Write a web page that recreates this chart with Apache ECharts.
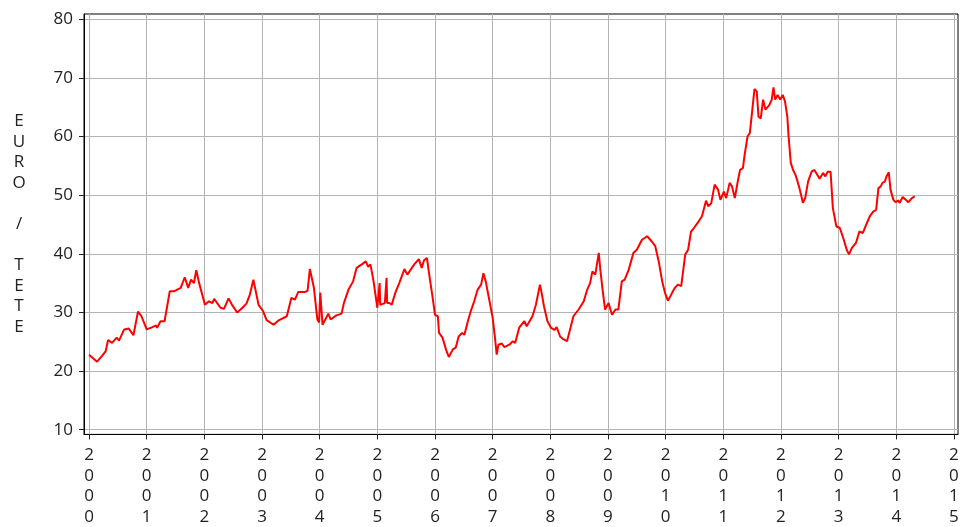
<!DOCTYPE html>
<html>
<head>
<meta charset="utf-8">
<script src="https://cdn.jsdelivr.net/npm/echarts@6/dist/echarts.min.js"></script>
<style>html,body{margin:0;padding:0;background:#fff}#c{width:962px;height:527px}</style>
</head>
<body>
<div id="c"></div>
<script>
// Fractional year of each reading
const dates = [
2000.00,2000.02,2000.14,2000.23,2000.29,2000.33,2000.40,2000.48,2000.52,2000.61,2000.69,2000.72,2000.77,2000.85,2000.91,
2001.00,2001.10,2001.16,2001.18,2001.24,2001.31,2001.40,2001.47,2001.59,2001.66,2001.72,2001.77,2001.82,2001.86,2001.91,
2002.01,2002.08,2002.14,2002.17,2002.28,2002.34,2002.42,2002.48,2002.57,2002.66,2002.73,2002.79,2002.85,2002.94,
2003.02,2003.08,2003.20,2003.28,2003.43,2003.51,2003.57,2003.63,2003.75,2003.79,2003.83,2003.90,2003.96,2003.99,2004.01,2004.05,
2004.15,2004.19,2004.29,2004.38,2004.42,2004.50,2004.58,2004.64,2004.73,2004.80,2004.84,2004.88,2004.93,2005.00,2005.04,2005.05,2005.07,
2005.13,2005.16,2005.17,2005.21,2005.25,2005.31,2005.38,2005.47,2005.52,2005.58,2005.64,2005.72,2005.77,2005.81,2005.86,2005.90,2005.96,
2006.00,2006.05,2006.07,2006.13,2006.19,2006.24,2006.31,2006.36,2006.41,2006.47,2006.51,2006.57,2006.62,2006.68,2006.74,2006.80,2006.84,2006.88,2006.94,
2007.00,2007.04,2007.07,2007.10,2007.16,2007.20,2007.29,2007.35,2007.39,2007.46,2007.55,2007.59,2007.64,2007.69,2007.75,2007.78,2007.82,2007.85,2007.89,2007.95,
2008.01,2008.07,2008.11,2008.17,2008.23,2008.29,2008.35,2008.40,2008.49,2008.58,2008.64,2008.69,2008.73,2008.78,2008.84,2008.87,2008.91,2008.95,
2009.01,2009.07,2009.13,2009.18,2009.24,2009.29,2009.36,2009.44,2009.50,2009.59,2009.68,2009.76,2009.82,2009.88,2009.94,2009.99,
2010.04,2010.11,2010.16,2010.21,2010.27,2010.34,2010.39,2010.44,2010.49,2010.57,2010.63,2010.70,2010.74,2010.79,2010.85,2010.91,2010.95,
2011.01,2011.05,2011.11,2011.15,2011.20,2011.25,2011.29,2011.34,2011.37,2011.42,2011.46,2011.50,2011.54,2011.58,2011.61,2011.65,2011.69,2011.73,2011.76,2011.80,2011.84,2011.87,2011.90,2011.94,2011.99,
2012.03,2012.07,2012.11,2012.13,2012.17,2012.21,2012.25,2012.28,2012.32,2012.38,2012.42,2012.47,2012.53,2012.58,2012.67,2012.73,2012.77,2012.81,2012.86,2012.90,2012.96,
2013.02,2013.08,2013.14,2013.18,2013.23,2013.30,2013.36,2013.42,2013.48,2013.54,2013.60,2013.65,2013.69,2013.73,2013.76,2013.80,2013.83,2013.87,2013.90,2013.95,2013.99,
2014.03,2014.06,2014.11,2014.15,2014.21,2014.27,2014.32
];
// EURO / TETE
const prices = [
22.8,22.6,21.6,22.65,23.4,25.3,24.8,25.7,25.2,27.1,27.25,27.5,26.1,30.15,29.35,
27.1,27.5,27.8,27.4,28.5,28.5,33.6,33.6,34.2,36.0,34.2,35.6,35.0,37.2,35.0,
31.3,31.9,31.6,32.3,30.8,30.6,32.4,31.3,30.0,30.8,31.5,33.05,35.6,31.3,
30.2,28.7,27.9,28.6,29.35,32.5,32.2,33.5,33.5,33.7,37.4,34.2,28.8,28.3,33.4,27.9,
29.8,28.8,29.5,29.8,31.6,33.9,35.3,37.6,38.2,38.7,37.8,38.2,35.6,30.8,35.0,31.3,31.3,
31.6,35.9,31.6,31.6,31.3,33.3,35.0,37.4,36.45,37.3,38.2,39.1,37.6,38.9,39.3,36.45,32.5,
29.6,29.35,26.5,25.7,23.7,22.4,23.7,24.0,25.9,26.5,26.2,28.5,30.2,31.9,33.9,34.75,36.7,35.3,32.2,
29.1,25.7,22.8,24.5,24.7,24.1,24.5,25.1,24.8,27.4,28.5,27.65,28.5,29.35,31.3,31.05,34.75,33.3,31.05,28.5,
27.4,27.0,27.5,25.9,25.4,25.1,27.4,29.35,30.5,31.9,33.9,35.0,37.0,36.45,40.15,37.0,33.6,30.5,
31.6,29.6,30.5,30.5,35.3,35.6,37.3,40.15,40.7,42.4,43.0,42.1,41.3,38.7,35.3,33.3,
32.0,33.3,34.2,34.75,34.5,39.9,40.7,43.8,44.4,45.5,46.4,49.05,48.1,48.6,51.8,50.9,49.2,
50.6,49.5,52.1,51.5,49.5,52.3,54.3,54.6,56.9,60.0,60.6,64.3,68.1,67.7,63.4,63.1,66.3,64.6,64.3,65.4,66.3,68.4,66.3,67.1,66.3,
67.1,66.0,63.4,60.3,55.5,54.3,53.5,52.6,51.2,48.7,49.5,52.3,54.0,54.3,52.8,53.8,53.2,54.0,54.0,47.8,44.7,
44.4,42.7,40.7,39.9,41.0,41.85,43.8,43.55,45.0,46.4,47.2,47.5,51.2,51.5,52.1,52.3,53.2,53.9,50.9,49.2,48.8,
49.1,48.7,49.7,49.35,48.8,49.5,49.8
];
const yearTicks = [2000,2001,2002,2003,2004,2005,2006,2007,2008,2009,2010,2011,2012,2013,2014,2015];
const valueTicks = [10,20,30,40,50,60,70,80];
const yTitle = 'EURO / TETE';

const chart = echarts.init(document.getElementById('c'), null, {renderer:'canvas'});
const FONT = '"Open Sans", "DejaVu Sans", sans-serif';
const series = dates.map((d,i)=>[d, prices[i]]);
chart.setOption({
  animation:false,
  backgroundColor:'#fff',
  grid:{left:84, top:14, right:4, bottom:92, show:true, borderColor:'#000', borderWidth:1, containLabel:false},
  xAxis:{
    type:'value', min:1999.913, max:2015.07, minInterval:1, maxInterval:1,
    axisLine:{show:true, onZero:false, lineStyle:{color:'#000', width:1}},
    axisTick:{show:true, length:5, customValues:yearTicks, lineStyle:{color:'#222'}},
    axisLabel:{customValues:yearTicks, margin:11, color:'#222', fontFamily:FONT, fontSize:17, lineHeight:20.4,
      formatter:v=>String(Math.round(v)).split('').join('\n')},
    splitLine:{show:true, lineStyle:{color:'#b4b4b4', width:1}}
  },
  yAxis:{
    type:'value', min:9.2, max:80.9, minInterval:10, maxInterval:10,
    name: yTitle.split('').map(c=>c===' '?'':c).join('\n'),
    nameLocation:'middle', nameRotate:0, nameGap:65,
    nameTextStyle:{color:'#222', fontFamily:FONT, fontSize:17, lineHeight:20.6, align:'center', verticalAlign:'middle'},
    axisLine:{show:true, lineStyle:{color:'#000', width:1}},
    axisTick:{show:true, length:5, customValues:valueTicks, lineStyle:{color:'#222'}},
    axisLabel:{customValues:valueTicks, margin:11, color:'#222', fontFamily:FONT, fontSize:17},
    splitLine:{show:true, lineStyle:{color:'#b4b4b4', width:1}}
  },
  series:[{type:'line', data:series, showSymbol:false, symbol:'none',
    lineStyle:{color:'#ff0000', width:2}, itemStyle:{color:'#ff0000'}}]
});
</script>
</body>
</html>
